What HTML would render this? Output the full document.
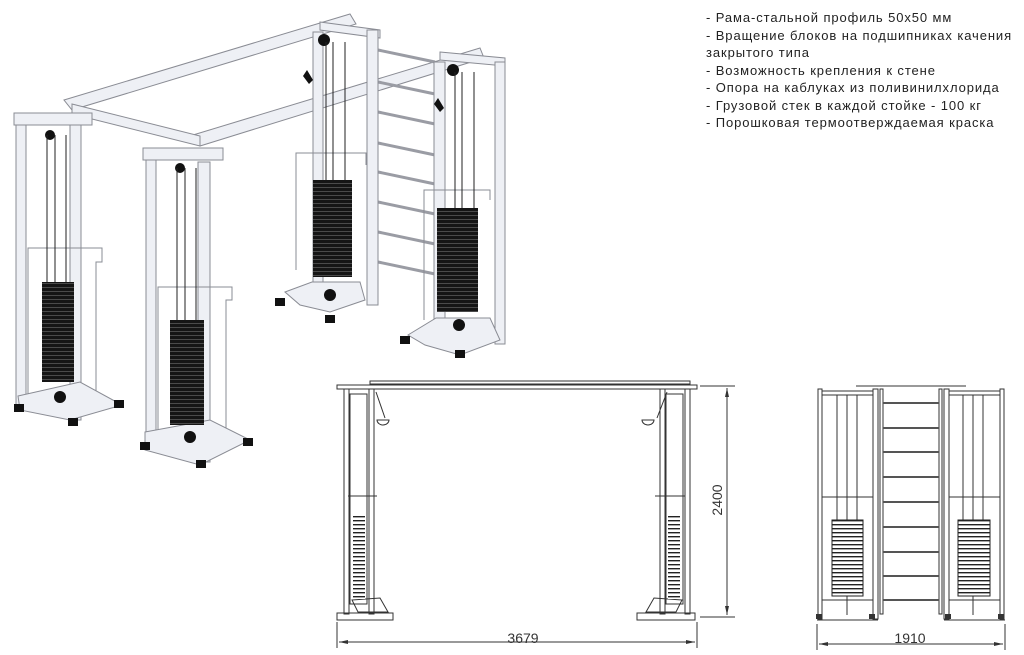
<!DOCTYPE html>
<html><head><meta charset="utf-8"><style>
body{margin:0;background:#fff;width:1024px;height:655px;overflow:hidden;font-family:"Liberation Sans","Noto Sans CJK SC",sans-serif}
.txt{position:absolute;left:706px;top:9px;font-size:13px;line-height:17.5px;color:#222;letter-spacing:0.9px;white-space:nowrap}
</style></head><body>
<svg width="1024" height="655" style="position:absolute;left:0;top:0">
<defs>
<pattern id="st" width="6" height="4" patternUnits="userSpaceOnUse"><rect width="6" height="4" fill="#151515"/><rect y="3" width="6" height="1" fill="#4a4a4a"/></pattern>
<pattern id="st2" width="6" height="4" patternUnits="userSpaceOnUse"><rect width="6" height="4" fill="#fff"/><rect y="0" width="6" height="1.4" fill="#222"/></pattern>
</defs>
<g stroke="#8a8c94" stroke-width="1" fill="#eef0f5">
<!-- top beams -->
<polygon points="64,100 350,14 356,24 72,110"/>
<polygon points="193,135 480,48 484,58 200,146"/>
<polygon points="72,104 200,136 200,146 72,114"/>
<polygon points="320,22 380,30 380,38 320,30"/>
<polygon points="440,52 505,58 505,66 440,60"/>
<!-- ladder -->
<g stroke="#9a9ca4" stroke-width="3">
<line x1="378" y1="50" x2="435" y2="62"/><line x1="378" y1="82" x2="435" y2="94"/><line x1="378" y1="112" x2="435" y2="124"/><line x1="378" y1="143" x2="435" y2="155"/><line x1="378" y1="172" x2="435" y2="184"/><line x1="378" y1="202" x2="435" y2="214"/><line x1="378" y1="232" x2="435" y2="244"/><line x1="378" y1="262" x2="435" y2="274"/>
</g>
<rect x="367" y="30" width="11" height="275"/>
<!-- back tower 1 -->
<rect x="313" y="32" width="10" height="262"/>
<polyline points="296,270 296,153 366,153 366,165" fill="none"/>
<polygon points="285,292 312,282 360,282 365,300 330,312 300,305"/>
<!-- back tower 2 -->
<rect x="434" y="62" width="11" height="272"/>
<rect x="495" y="62" width="10" height="282"/>
<polyline points="424,320 424,190 490,190 490,200" fill="none"/>
<polygon points="408,335 436,318 490,318 500,340 460,355 425,345"/>
<!-- front tower 1 -->
<rect x="16" y="118" width="10" height="290"/>
<rect x="70" y="125" width="11" height="295"/>
<rect x="14" y="113" width="78" height="12"/>
<polyline points="28,395 28,248 102,248 102,262 96,262 96,395" fill="none"/>
<polygon points="18,396 80,382 122,405 70,420 20,410"/>
<!-- front tower 2 -->
<rect x="146" y="155" width="10" height="290"/>
<rect x="198" y="162" width="12" height="300"/>
<rect x="143" y="148" width="80" height="12"/>
<polyline points="158,430 158,287 232,287 232,300 226,300 226,430" fill="none"/>
<polygon points="145,432 210,420 250,440 200,465 145,450"/>
</g>
<g fill="#111">
<rect x="313" y="180" width="39" height="97" fill="url(#st)"/>
<rect x="437" y="208" width="41" height="104" fill="url(#st)"/>
<rect x="42" y="282" width="32" height="100" fill="url(#st)"/>
<rect x="170" y="320" width="34" height="105" fill="url(#st)"/>
<rect x="14" y="404" width="10" height="8"/><rect x="68" y="418" width="10" height="8"/><rect x="114" y="400" width="10" height="8"/>
<rect x="140" y="442" width="10" height="8"/><rect x="196" y="460" width="10" height="8"/><rect x="243" y="438" width="10" height="8"/>
<rect x="275" y="298" width="10" height="8"/><rect x="325" y="315" width="10" height="8"/><rect x="400" y="336" width="10" height="8"/><rect x="455" y="350" width="10" height="8"/>
<circle cx="324" cy="40" r="6"/><circle cx="453" cy="70" r="6"/><circle cx="50" cy="135" r="5"/><circle cx="180" cy="168" r="5"/>
<circle cx="330" cy="295" r="6"/><circle cx="459" cy="325" r="6"/><circle cx="60" cy="397" r="6"/><circle cx="190" cy="437" r="6"/>
<path d="M307 70 l6 10 l-4 4 l-6 -8z M438 98 l6 10 l-4 4 l-6 -8z"/>
</g>
<g stroke="#222" stroke-width="1">
<line x1="47" y1="135" x2="47" y2="282"/><line x1="55" y1="135" x2="55" y2="282"/><line x1="66" y1="135" x2="66" y2="282"/>
<line x1="177" y1="168" x2="177" y2="320"/><line x1="185" y1="168" x2="185" y2="320"/><line x1="196" y1="168" x2="196" y2="320"/>
<line x1="326" y1="42" x2="326" y2="180"/><line x1="333" y1="42" x2="333" y2="180"/><line x1="345" y1="42" x2="345" y2="180"/>
<line x1="455" y1="72" x2="455" y2="208"/><line x1="462" y1="72" x2="462" y2="208"/><line x1="474" y1="72" x2="474" y2="208"/>
</g>
<!-- front view -->
<g stroke="#333" stroke-width="1" fill="none">
<rect x="337" y="385" width="360" height="4"/>
<rect x="370" y="381" width="320" height="3"/>
<rect x="344" y="389" width="5" height="225"/><rect x="369" y="389" width="5" height="225"/>
<rect x="685" y="389" width="5" height="225"/><rect x="660" y="389" width="5" height="225"/>
<rect x="350" y="394" width="17" height="210"/>
<rect x="666" y="394" width="17" height="210"/>
<rect x="337" y="613" width="56" height="7"/><rect x="637" y="613" width="58" height="7"/>
<line x1="348" y1="496" x2="377" y2="496"/><line x1="655" y1="496" x2="685" y2="496"/>
<path d="M376 392 L385 418 M377 420 a6 5 0 1 0 12 0 z M667 392 L657 418 M642 420 a6 5 0 1 0 12 0 z"/>
<path d="M352 600 L380 598 L388 612 L358 612 Z M682 600 L654 598 L646 612 L676 612 Z"/>
<line x1="337" y1="622" x2="337" y2="648"/><line x1="697" y1="622" x2="697" y2="648"/>
<line x1="339" y1="642" x2="695" y2="642"/>
<line x1="700" y1="386" x2="735" y2="386"/><line x1="700" y1="617" x2="735" y2="617"/>
<line x1="727" y1="388" x2="727" y2="615"/>
</g>
<rect x="353" y="515" width="12" height="84" fill="url(#st2)"/>
<rect x="668" y="515" width="12" height="84" fill="url(#st2)"/>
<g fill="#333"><path d="M339 642 l9 -2 v4z M695 642 l-9 -2 v4z M727 388 l-2 9 h4z M727 615 l-2 -9 h4z"/></g>
<text x="523" y="643" font-size="14" fill="#333" text-anchor="middle" font-family="Liberation Sans">3679</text>
<text x="0" y="0" font-size="14" fill="#333" text-anchor="middle" font-family="Liberation Sans" transform="translate(722,500) rotate(-90)">2400</text>
<!-- side view -->
<g stroke="#333" stroke-width="1" fill="none">
<rect x="818" y="389" width="4" height="230"/><rect x="873" y="389" width="5" height="230"/>
<rect x="880" y="389" width="3" height="225"/>
<rect x="939" y="389" width="3" height="225"/>
<rect x="944" y="389" width="5" height="230"/><rect x="1000" y="389" width="4" height="230"/>
<rect x="822" y="391" width="51" height="4"/><rect x="949" y="391" width="51" height="4"/>
<line x1="822" y1="497" x2="873" y2="497"/><line x1="949" y1="497" x2="1000" y2="497"/>
<line x1="822" y1="600" x2="873" y2="600"/><line x1="949" y1="600" x2="1000" y2="600"/>
<line x1="817" y1="620" x2="878" y2="620"/><line x1="944" y1="620" x2="1005" y2="620"/>
<line x1="856" y1="386" x2="966" y2="386"/>
<line x1="837" y1="395" x2="837" y2="520"/><line x1="857" y1="395" x2="857" y2="520"/>
<line x1="963" y1="395" x2="963" y2="520"/><line x1="983" y1="395" x2="983" y2="520"/>
<line x1="847" y1="395" x2="847" y2="615"/><line x1="973" y1="395" x2="973" y2="615"/>
<line x1="817" y1="624" x2="817" y2="650"/><line x1="1005" y1="624" x2="1005" y2="650"/>
<line x1="819" y1="644" x2="1003" y2="644"/>
</g>
<g stroke="#555" stroke-width="2">
<line x1="883" y1="403" x2="939" y2="403"/><line x1="883" y1="428" x2="939" y2="428"/><line x1="883" y1="452" x2="939" y2="452"/><line x1="883" y1="477" x2="939" y2="477"/><line x1="883" y1="502" x2="939" y2="502"/><line x1="883" y1="527" x2="939" y2="527"/><line x1="883" y1="552" x2="939" y2="552"/><line x1="883" y1="576" x2="939" y2="576"/><line x1="883" y1="600" x2="939" y2="600"/>
</g>
<rect x="832" y="520" width="31" height="76" fill="url(#st2)" stroke="#222"/>
<rect x="958" y="520" width="32" height="76" fill="url(#st2)" stroke="#222"/>
<g fill="#333"><path d="M819 644 l9 -2 v4z M1003 644 l-9 -2 v4z"/>
<rect x="816" y="614" width="6" height="5"/><rect x="869" y="614" width="6" height="5"/><rect x="945" y="614" width="6" height="5"/><rect x="998" y="614" width="6" height="5"/></g>
<text x="910" y="643" font-size="14" fill="#333" text-anchor="middle" font-family="Liberation Sans">1910</text>
</svg>
<div class="txt">- Рама-стальной профиль 50х50 мм<br>- Вращение блоков на подшипниках качения<br>закрытого типа<br>- Возможность крепления к стене<br>- Опора на каблуках из поливинилхлорида<br>- Грузовой стек в каждой стойке - 100 кг<br>- Порошковая термоотверждаемая краска</div>
</body></html>
